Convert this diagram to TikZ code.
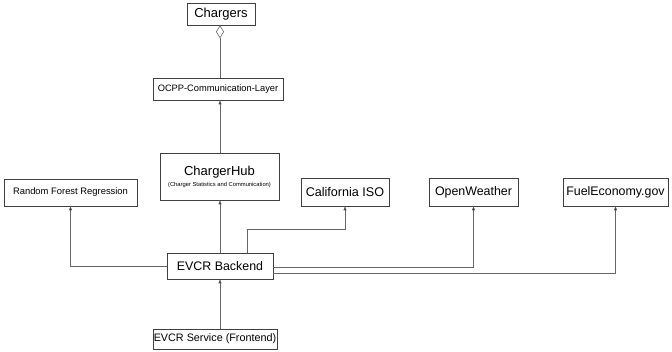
\documentclass[tikz,border=0pt]{standalone}
\usepackage{fontspec}
\setmainfont{Liberation Sans}
\usetikzlibrary{arrows.meta}
\tikzset{
  box/.style={draw=black!75, line width=0.6pt, inner sep=0pt, align=center, fill=white},
  conn/.style={draw=black!60, line width=0.6pt, -{Triangle[length=4pt,width=3pt,fill=black]}},
  agg/.style={draw=black!60, line width=0.6pt, -{Diamond[open,length=13pt,width=8pt,fill=white]}},
}
\newcommand{\fs}[1]{\fontsize{#1}{#1}\selectfont}
\begin{document}
\begin{tikzpicture}[x=1pt,y=-1pt]
\useasboundingbox (0,0) rectangle (672,352);
\node[box, minimum width=68pt, minimum height=22pt] (chg) at (221,14) {\fs{13}Chargers};
\node[box, minimum width=130pt, minimum height=22pt] (ocpp) at (218,89) {\fs{9.3}OCPP-Communication-Layer};
\node[box, minimum width=119pt, minimum height=47pt] (hub) at (219.5,176.5) {\fs{13}ChargerHub\\[-1pt]\fs{5.8}(Charger Statistics and Communication)};
\node[box, minimum width=133pt, minimum height=27pt] (rfr) at (70.5,192.5) {\fs{9.4}Random Forest Regression};
\node[box, minimum width=88pt, minimum height=28pt] (cal) at (345,192) {\fs{12.6}California ISO};
\node[box, minimum width=89pt, minimum height=28pt] (ow) at (473.5,192) {\fs{12.4}OpenWeather};
\node[box, minimum width=105pt, minimum height=28pt] (fe) at (615.5,192) {\fs{12.4}FuelEconomy.gov};
\node[box, minimum width=106pt, minimum height=26pt] (back) at (220,266) {\fs{12.4}EVCR Backend};
\node[box, minimum width=124pt, minimum height=20pt] (svc) at (215,339) {\fs{10.8}EVCR Service (Frontend)};
\coordinate (x220) at (220,0);
\coordinate (calbend) at (247,229);
\draw[agg] (ocpp.north -| x220) -- (chg.south -| x220);
\draw[conn] (hub.north -| x220) -- (ocpp.south -| x220);
\draw[conn] (back.north -| x220) -- (hub.south -| x220);
\draw[conn] (svc.north -| back.south) -- (back.south);
\draw[conn] (back.west) -| (rfr.south);
\draw[conn] (back.north -| calbend) |- (calbend) -| (cal.south);
\draw[conn] ([yshift=-1pt]back.east) -| (ow.south);
\draw[conn] ([yshift=-7pt]back.east) -| (fe.south);
\end{tikzpicture}
\end{document}
